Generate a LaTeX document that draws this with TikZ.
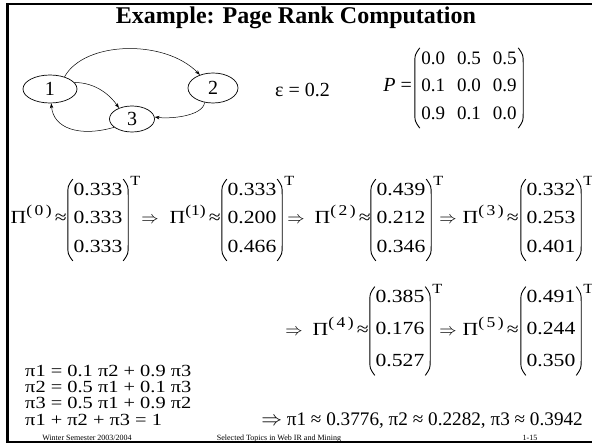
\documentclass[tikz,border=0pt]{standalone}
\usepackage{fontspec}
\setmainfont{Liberation Serif}
\newfontfamily\widefont[FakeStretch=1.17]{Liberation Serif}
\newfontfamily\eqfont[FakeStretch=1.2]{Liberation Serif}
\usepackage{tikz}
\usetikzlibrary{shapes.geometric,arrows.meta}

\newcommand{\colvec}[4]{\begin{tabular}{@{}c@{}}#2\\[#1]#3\\[#1]#4\end{tabular}}
\newcommand{\iter}[1]{Π\raisebox{8pt}{\fontsize{15}{15}\selectfont(#1)}\,≈}
\newcommand{\parens}[1]{%
  \draw[paren] ([xshift=5pt]#1.north west) .. controls ([yshift=-7pt]#1.north west) .. ([yshift=-16pt]#1.north west) -- ([yshift=16pt]#1.south west) .. controls ([yshift=7pt]#1.south west) .. ([xshift=5pt]#1.south west);
  \draw[paren] ([xshift=-5pt]#1.north east) .. controls ([yshift=-7pt]#1.north east) .. ([yshift=-16pt]#1.north east) -- ([yshift=16pt]#1.south east) .. controls ([yshift=7pt]#1.south east) .. ([xshift=-5pt]#1.south east);}

\begin{document}
\begin{tikzpicture}[x=1pt,y=1pt,
  txt/.style={font=\fontsize{20}{24}\selectfont,inner sep=0pt},
  wide/.style={font=\widefont\fontsize{18.5}{22}\selectfont,inner sep=0pt},
  eqline/.style={font=\eqfont\fontsize{17}{17}\selectfont,inner sep=0pt,anchor=base west},
  arr/.style={font=\fontsize{16}{20}\selectfont,inner sep=0pt,anchor=base},
  vecnode/.style={font=\widefont\fontsize{18.5}{18.5}\selectfont,inner xsep=0pt,inner ysep=3pt,minimum width=60pt},
  tsup/.style={font=\widefont\fontsize{14}{14}\selectfont,inner sep=0pt,anchor=west},
  paren/.style={line width=0.9pt},
  pagenode/.style={ellipse,draw,line width=0.7pt,inner sep=0pt,font=\fontsize{20}{24}\selectfont},
  link/.style={-{Stealth[length=5pt,width=3.5pt]},line width=0.5pt},
  foot/.style={font=\fontsize{8}{9}\selectfont,inner sep=0pt,anchor=base}]
\useasboundingbox (0,0) rectangle (592,445);
\draw[line width=2.5pt] (600,441) -| (7.5,3) -- (600,3);
\node[font=\bfseries\fontsize{24}{28}\selectfont,anchor=base] (title) at (296,421) {Example: Page Rank Computation};
% graph
\node[pagenode,minimum width=54pt,minimum height=28pt] (n1) at (50,356) {1};
\node[pagenode,minimum width=50pt,minimum height=30pt] (n2) at (213,357) {2};
\node[pagenode,minimum width=45pt,minimum height=26pt] (n3) at (132,326) {3};
\draw[link] (n1.40) .. controls +(20,36) and +(-35,36) .. (n2.135);
\draw[link] (n1.15) .. controls +(22,0) and +(-8,12) .. (n3.140);
\draw[link] (n2.240) .. controls +(-2,-14) and +(15,-2) .. (n3.5);
\draw[link] (n3.205) .. controls +(-35,-10) and +(2,-25) .. (n1.275);
\node[txt,anchor=base west] (eps) at (275,348) {ε = 0.2};
% transition matrix
\node[txt,anchor=base east] (plbl) at (412,353) {\textit{P} =};
\node[vecnode,font=\fontsize{19}{19}\selectfont,minimum width=108pt] (pmat) at (469,357)
  {\begin{tabular}{@{}c@{\hspace{12pt}}c@{\hspace{12pt}}c@{}}0.0 & 0.5 & 0.5\\[8.5pt]0.1 & 0.0 & 0.9\\[8.5pt]0.9 & 0.1 & 0.0\end{tabular}};
\parens{pmat}
% iterations, first row
\node[wide,anchor=base east] (l0) at (67,221) {\iter{\,0\,}};
\node[vecnode] (v0) at (98,225) {\colvec{10pt}{0.333}{0.333}{0.333}};
\node[arr] (a1) at (150,221) {$\Rightarrow$};
\node[wide,anchor=base east] (l1) at (221,221) {\iter{1}};
\node[vecnode] (v1) at (252,225) {\colvec{10pt}{0.333}{0.200}{0.466}};
\node[arr] (a2) at (296,221) {$\Rightarrow$};
\node[wide,anchor=base east] (l2) at (371,221) {\iter{\,2\,}};
\node[vecnode] (v2) at (401,225) {\colvec{10pt}{0.439}{0.212}{0.346}};
\node[arr] (a3) at (448,221) {$\Rightarrow$};
\node[wide,anchor=base east] (l3) at (519,221) {\iter{\,3\,}};
\node[vecnode] (v3) at (551,225) {\colvec{10pt}{0.332}{0.253}{0.401}};
% second row
\node[arr] (a4) at (294,110) {$\Rightarrow$};
\node[wide,anchor=base east] (l4) at (369,110) {\iter{\,4\,}};
\node[vecnode] (v4) at (400,114) {\colvec{13.5pt}{0.385}{0.176}{0.527}};
\node[arr] (a5) at (448,110) {$\Rightarrow$};
\node[wide,anchor=base east] (l5) at (519,110) {\iter{\,5\,}};
\node[vecnode] (v5) at (551,114) {\colvec{13.5pt}{0.491}{0.244}{0.350}};
\parens{v0} \parens{v1} \parens{v2} \parens{v3} \parens{v4} \parens{v5}
\node[tsup] (t0) at ([xshift=2pt,yshift=-2pt]v0.north east) {T};
\node[tsup] (t1) at ([xshift=2pt,yshift=-2pt]v1.north east) {T};
\node[tsup] (t2) at ([xshift=2pt,yshift=-2pt]v2.north east) {T};
\node[tsup] (t3) at ([xshift=2pt,yshift=-2pt]v3.north east) {T};
\node[tsup] (t4) at ([xshift=2pt,yshift=-2pt]v4.north east) {T};
\node[tsup] (t5) at ([xshift=2pt,yshift=-2pt]v5.north east) {T};
% linear system
\node[eqline] (e1) at (25,69) {π1 = 0.1 π2 + 0.9 π3};
\node[eqline] (e2) at (25,53) {π2 = 0.5 π1 + 0.1 π3};
\node[eqline] (e3) at (25,37) {π3 = 0.5 π1 + 0.9 π2};
\node[eqline] (e4) at (25,20) {π1 + π2 + π3 = 1};
\node[txt,font=\fontsize{19.2}{22}\selectfont,anchor=base east] (res) at (583,20) {$\Rightarrow$ π1 ≈ 0.3776, π2 ≈ 0.2282, π3 ≈ 0.3942};
% footer
\node[foot] (f1) at (87,5) {Winter Semester 2003/2004};
\node[foot] (f2) at (279,5) {Selected Topics in Web IR and Mining};
\node[foot] (f3) at (530,5) {1-15};
\end{tikzpicture}
\end{document}
